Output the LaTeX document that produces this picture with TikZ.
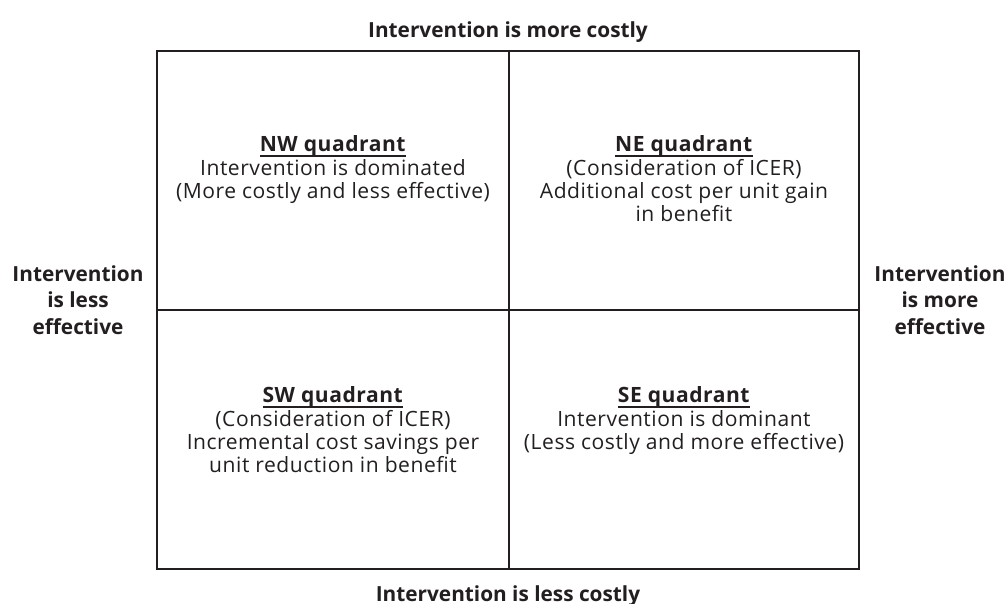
\documentclass[tikz,border=0pt]{standalone}
\usepackage{fontspec}
\setmainfont{Open Sans}
\newfontfamily\quadfont[LetterSpace=2.5]{Open Sans}
\definecolor{ink}{HTML}{231F20}
\newcommand\qul[1]{\leavevmode\setbox0\hbox{#1}\makebox[0pt][l]{\raisebox{-4.2pt}{\color{ink}\rule{\wd0}{1.1pt}}}\box0}
\begin{document}
\begin{tikzpicture}[x=0.75pt,y=-0.75pt,
  frame/.style={draw=ink,line width=1.5pt},
  quad/.style={anchor=north,align=center,inner sep=0pt,text=ink,font=\quadfont\fontsize{15.8}{17}\selectfont},
  axis/.style={align=center,inner sep=0pt,text=ink,font=\fontsize{15.6}{20}\selectfont\bfseries}]
\useasboundingbox (0,0) rectangle (1008,604);
\coordinate (tl) at (157,51);
\coordinate (br) at (859,569);
\coordinate (tm) at (509,51);
\coordinate (bm) at (509,569);
\coordinate (lm) at (157,310);
\coordinate (rm) at (859,310);
\draw[frame] (tl) rectangle (br);
\draw[frame] (tm) -- (bm);
\draw[frame] (lm) -- (rm);
\node[axis,anchor=base] (top) at (508,37) {Intervention is more costly};
\node[axis,anchor=base] (bot) at (508,601) {Intervention is less costly};
\node[axis] (left) at (78,300) {Intervention\\is less\\effective};
\node[axis] (right) at (940,300) {Intervention\\is more\\effective};
\node[quad] (nw) at (333,135) {\qul{\textbf{NW quadrant}}\\[1.5pt]Intervention is dominated\\(More costly and less effective)};
\node[quad] (ne) at (684,135) {\qul{\textbf{NE quadrant}}\\[1.5pt](Consideration of ICER)\\Additional cost per unit gain\\in benefit};
\node[quad] (sw) at (333,386) {\qul{\textbf{SW quadrant}}\\[1.5pt](Consideration of ICER)\\Incremental cost savings per\\unit reduction in benefit};
\node[quad] (se) at (684,386) {\qul{\textbf{SE quadrant}}\\[1.5pt]Intervention is dominant\\(Less costly and more effective)};
\end{tikzpicture}
\end{document}
